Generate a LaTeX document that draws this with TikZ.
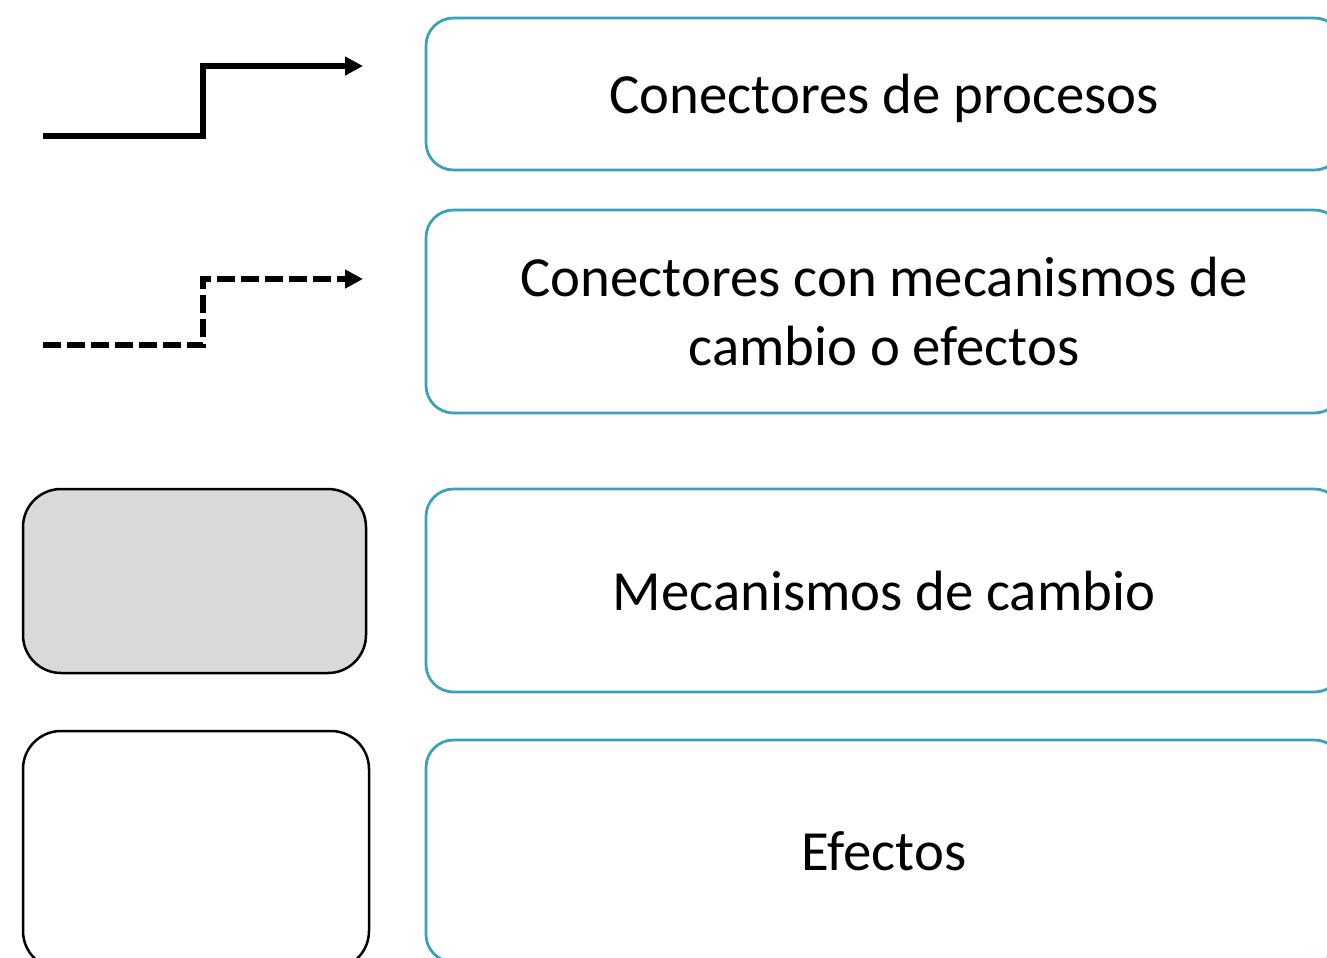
\documentclass[tikz,border=0pt]{standalone}
\usepackage{fontspec}
\setmainfont{Carlito}
\usetikzlibrary{arrows.meta}
\definecolor{boxblue}{RGB}{58,160,188}
\definecolor{grayfill}{RGB}{217,217,217}
\tikzset{
  legendbox/.style={draw=boxblue, line width=0.055cm, rounded corners=0.55cm, fill=white,
    align=center, inner sep=0pt, font=\fontsize{32.3}{38.7}\selectfont},
  samplebox/.style={draw=black, line width=0.05cm, rounded corners=0.76cm},
  conn/.style={line width=0.11cm, -{Triangle[length=0.36cm,width=0.36cm]}},
  dconn/.style={conn, dash pattern=on 0.35cm off 0.13cm}
}
\begin{document}
\begin{tikzpicture}
\useasboundingbox (0,0) rectangle (26.54,-19.14);
\clip (0,0) rectangle (26.54,-19.14);
\fill[white] (0,0) rectangle (26.54,-19.14);

% legend boxes
\node[legendbox, text depth=0pt, minimum width=18.32cm, minimum height=3.04cm] (b1) at (17.68,-1.88) {Conectores de procesos};
\node[legendbox, minimum width=18.32cm, minimum height=4.06cm] (b2) at (17.68,-6.23) {Conectores con mecanismos de\\cambio o efectos};
\node[legendbox, minimum width=18.32cm, minimum height=4.06cm] (b3) at (17.68,-11.81) {Mecanismos de cambio};
\node[legendbox, minimum width=18.32cm, minimum height=4.44cm] (b4) at (17.68,-17.02) {Efectos};

% sample shapes
\node[samplebox, fill=grayfill, minimum width=6.86cm, minimum height=3.68cm] (g) at (3.89,-11.62) {};
\node[samplebox, fill=white, minimum width=6.92cm, minimum height=4.76cm] (w) at (3.92,-17.0) {};

% connectors
\coordinate (s1) at (0.86,-2.72);
\coordinate (k1) at (4.06,-2.72);
\coordinate (e1) at (7.26,-1.32);
\draw[conn] (s1) -- (k1) |- (e1);

\coordinate (s2) at (0.86,-6.90);
\coordinate (k2) at (4.06,-6.90);
\coordinate (e2) at (7.26,-5.58);
\draw[dconn] (s2) -- (k2) |- (e2);
\end{tikzpicture}
\end{document}
